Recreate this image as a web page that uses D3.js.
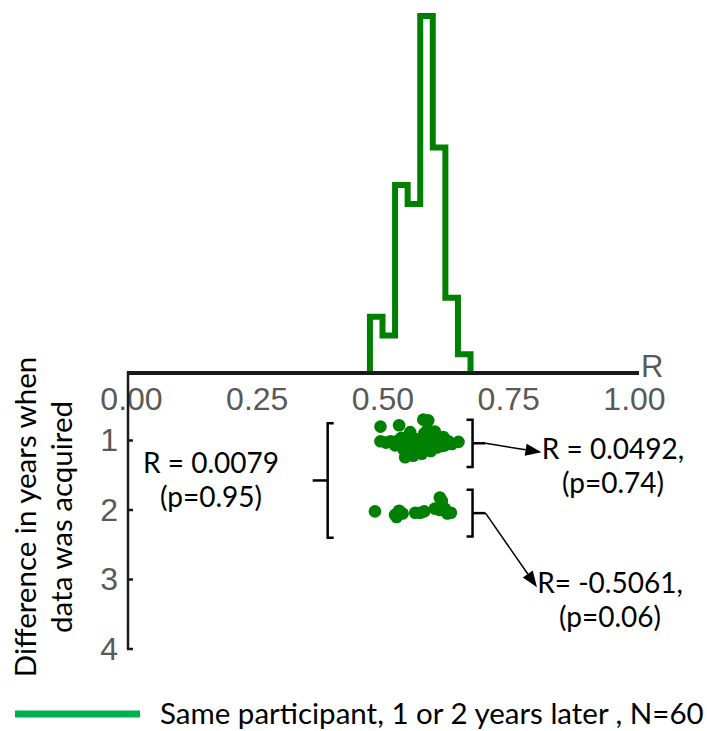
<!DOCTYPE html>
<html><head><meta charset="utf-8">
<script src="https://cdn.jsdelivr.net/npm/d3@7"></script>
<style>body{margin:0;background:#fff} svg{display:block}</style>
</head><body>
<svg id="chart" width="707" height="731"></svg>
<script>
// Histogram of within-participant R values (bin edges and counts, N = 60)
const binEdges = [0.475, 0.5, 0.525, 0.55, 0.575, 0.6, 0.625, 0.65, 0.675];
const binCounts = [3, 2, 10, 9, 19, 12, 4, 1];

const xTicks = [0, 0.25, 0.5, 0.75, 1];
const xTickLabels = ["0.00", "0.25", "0.50", "0.75", "1.00"];
const yTicks = [1, 2, 3, 4];

// Pairs scanned 1 year apart: R value and jittered year difference
const oneYearR = [0.496, 0.533, 0.581, 0.591, 0.555, 0.604, 0.496, 0.516, 0.531, 0.548,
  0.565, 0.581, 0.594, 0.614, 0.631, 0.651, 0.541, 0.545, 0.561, 0.578,
  0.588, 0.608, 0.624, 0.525, 0.571, 0.555, 0.598, 0.621, 0.638, 0.507,
  0.538, 0.552, 0.560, 0.572, 0.585, 0.592, 0.600, 0.610, 0.618, 0.583,
  0.577, 0.566, 0.596, 0.605, 0.590];
const oneYearY = [0.80, 0.78, 0.70, 0.71, 0.88, 0.87, 1.01, 1.01, 1.00, 1.02,
  0.98, 0.97, 0.95, 1.00, 1.01, 1.02, 1.12, 1.24, 1.22, 1.19,
  1.10, 1.10, 1.07, 1.07, 1.10, 1.12, 1.02, 0.95, 1.05, 1.03,
  0.96, 1.05, 0.99, 1.04, 1.02, 1.06, 0.93, 1.04, 1.08, 0.90,
  1.14, 1.16, 1.15, 0.98, 0.84];

// Pairs scanned 2 years apart
const twoYearR = [0.485, 0.525, 0.533, 0.540, 0.565, 0.575, 0.583, 0.614, 0.618, 0.604,
  0.614, 0.624, 0.636, 0.528, 0.629];
const twoYearY = [2.02, 2.07, 2.01, 2.05, 2.04, 2.04, 2.02, 1.82, 1.87, 1.98,
  2.00, 1.98, 2.04, 2.10, 2.05];

const statAll = ["R = 0.0079", "(p=0.95)"];
const statOne = ["R = 0.0492,", "(p=0.74)"];
const statTwo = ["R= -0.5061,", "(p=0.06)"];
const yTitle = ["Difference in years when", "data was acquired"];
const legendLabel = "Same participant, 1 or 2 years later , N=60";

const svg = d3.select("#chart");
const green = "#008000";
const textFont = "Lato, 'Open Sans', sans-serif";
const tickFont = "'Liberation Sans', Arial, sans-serif";

const axisY = 373;
const x = d3.scaleLinear().domain([0, 1]).range([131, 634]);
const yHist = d3.scaleLinear().domain([0, d3.max(binCounts)]).range([axisY, 16]);
const yYears = d3.scaleLinear().domain([0, 4]).range([371, 649]);

// step outline of the histogram
const steps = [[binEdges[0], 0]];
binCounts.forEach((c, i) => { steps.push([binEdges[i], c], [binEdges[i + 1], c]); });
steps.push([binEdges[binEdges.length - 1], 0]);
svg.append("path")
  .attr("d", d3.line().x(d => x(d[0])).y(d => yHist(d[1]))(steps))
  .attr("fill", "none").attr("stroke", green).attr("stroke-width", 6)
  .attr("stroke-linejoin", "miter");

// R axis
svg.append("line").attr("x1", 128).attr("x2", 639).attr("y1", axisY).attr("y2", axisY)
  .attr("stroke", "#1a1a1a").attr("stroke-width", 4);
const xAxis = svg.append("g").attr("transform", `translate(0,${axisY})`)
  .call(d3.axisBottom(x).tickValues(xTicks).tickFormat((d, i) => xTickLabels[i])
    .tickSize(0).tickPadding(14));
xAxis.select(".domain").remove();
xAxis.selectAll("text").attr("font-family", tickFont).attr("font-size", 32).attr("fill", "#595959");
svg.append("text").attr("x", 641).attr("y", 377).text("R")
  .attr("font-family", tickFont).attr("font-size", 31).attr("fill", "#595959");

// year-difference axis
svg.append("line").attr("x1", 128).attr("x2", 128).attr("y1", yYears(0)).attr("y2", yYears(4))
  .attr("stroke", "#1a1a1a").attr("stroke-width", 2.5);
svg.selectAll(".ytick").data(yTicks).join("line").attr("class", "ytick")
  .attr("x1", 127).attr("x2", 133).attr("y1", d => yYears(d)).attr("y2", d => yYears(d))
  .attr("stroke", "#1a1a1a").attr("stroke-width", 2.5);
const yAxis = svg.append("g").attr("transform", "translate(128,0)")
  .call(d3.axisLeft(yYears).tickValues(yTicks).tickFormat(d3.format("d"))
    .tickSize(0).tickPadding(10));
yAxis.select(".domain").remove();
yAxis.selectAll("text").attr("font-family", tickFont).attr("font-size", 32).attr("fill", "#595959");

// axis title
const title = svg.append("g").attr("transform", `translate(0,${yYears(2.1)}) rotate(-90)`);
title.selectAll("text").data(yTitle).join("text")
  .attr("x", 0).attr("y", (d, i) => 36 + i * 36)
  .attr("text-anchor", "middle").attr("font-family", textFont).attr("font-size", 29.5)
  .attr("fill", "#000").text(d => d);

// points
const pts = oneYearR.map((r, i) => [r, oneYearY[i]])
  .concat(twoYearR.map((r, i) => [r, twoYearY[i]]));
svg.selectAll(".pt").data(pts).join("circle").attr("class", "pt")
  .attr("cx", d => x(d[0])).attr("cy", d => yYears(d[1])).attr("r", 6.3).attr("fill", green);

// brackets grouping the points
function bracket(xPos, y0, y1, dir, tickLen) {
  const top = yYears(y0), bot = yYears(y1), bx = x(xPos);
  svg.append("path")
    .attr("d", `M${bx + dir * 6},${top}H${bx}V${bot}H${bx + dir * 6}`)
    .attr("fill", "none").attr("stroke", "#000").attr("stroke-width", 2.5);
  const mid = (top + bot) / 2;
  svg.append("line").attr("x1", bx).attr("x2", bx - dir * tickLen)
    .attr("y1", mid).attr("y2", mid).attr("stroke", "#000").attr("stroke-width", 2.5);
  return [bx - dir * tickLen, mid];
}
bracket(0.391, 0.75, 2.4, 1, 15);
const b1 = bracket(0.679, 0.70, 1.38, -1, 13);
const b2 = bracket(0.679, 1.71, 2.38, -1, 13);

function arrow(from, to) {
  const dx = to[0] - from[0], dy = to[1] - from[1];
  const len = Math.hypot(dx, dy), ux = dx / len, uy = dy / len;
  const hl = 16, hw = 6;
  const bx = to[0] - ux * hl, by = to[1] - uy * hl;
  svg.append("line").attr("x1", from[0]).attr("y1", from[1]).attr("x2", bx).attr("y2", by)
    .attr("stroke", "#000").attr("stroke-width", 1.5);
  svg.append("path")
    .attr("d", `M${to[0]},${to[1]}L${bx - uy * hw},${by + ux * hw}L${bx + uy * hw},${by - ux * hw}Z`)
    .attr("fill", "#000");
}
arrow(b1, [x(0.816), yYears(1.17)]);
arrow(b2, [x(0.807), yYears(3.11)]);

function statText(lines, cx, y) {
  svg.append("g").selectAll("text").data(lines).join("text")
    .attr("x", cx).attr("y", (d, i) => y + i * 34)
    .attr("text-anchor", "middle").attr("font-family", textFont).attr("font-size", 28)
    .attr("fill", "#000").text(d => d);
}
statText(statAll, 211, 473);
statText(statOne, 613, 459);
statText(statTwo, 610, 593);

// legend
svg.append("line").attr("x1", 15).attr("x2", 140).attr("y1", 714).attr("y2", 714)
  .attr("stroke", "#00b050").attr("stroke-width", 7);
svg.append("text").attr("x", 160).attr("y", 724).text(legendLabel)
  .attr("font-family", textFont).attr("font-size", 29.5).attr("fill", "#000");
</script>
</body></html>
